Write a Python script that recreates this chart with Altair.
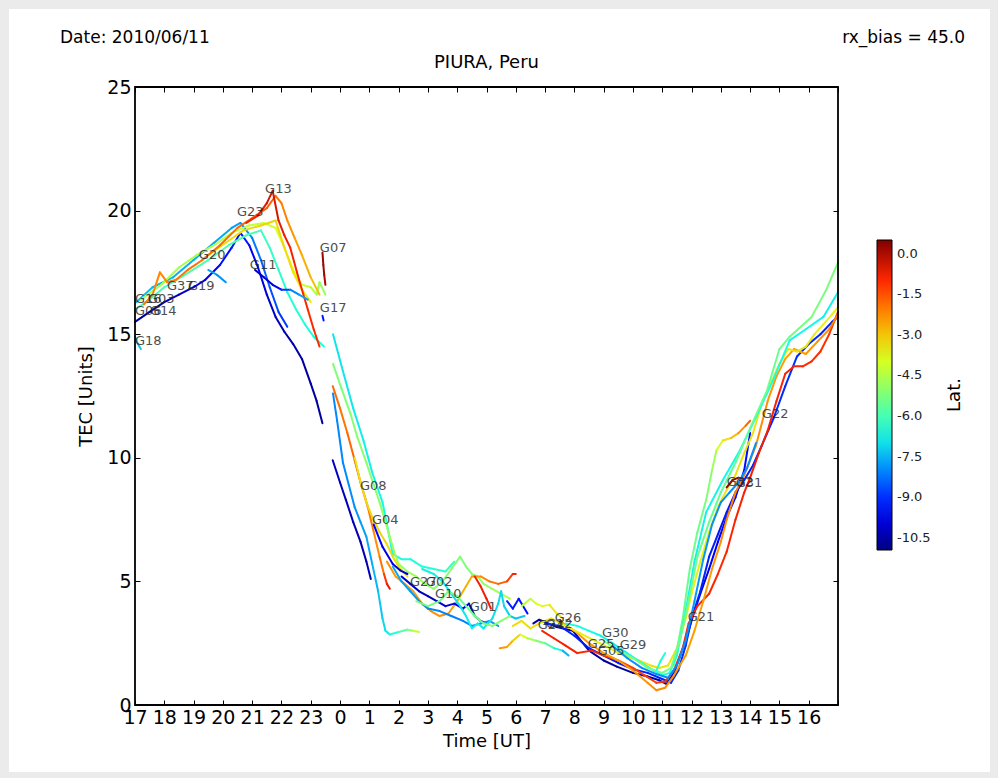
import altair as alt
import pandas as pd

# ---------------- data: satellite tracks (time in UT hours, 17 -> 41 = next day 17) ----------------
E1_T = [17.05, 17.6, 18.3, 19.0, 19.7, 20.3, 20.6, 21.0, 21.3, 21.6, 21.9, 22.2]
E1_TEC = [16.3, 16.9, 17.3, 18.0, 18.7, 19.3, 19.5, 18.9, 18.0, 16.9, 15.9, 15.3]
E1_LAT = [-7.4, -7.4, -7.5, -7.6, -7.6, -7.7, -7.8, -8.0, -8.3, -8.5, -8.8, -9.0]

E2_T = [17.0, 17.5, 18.0, 18.5, 19.0, 19.4, 19.9, 20.3, 20.6, 20.9, 21.2, 21.5, 21.8, 22.1, 22.4, 22.7, 23.0, 23.2, 23.4]
E2_TEC = [15.5, 15.9, 16.3, 16.6, 16.9, 17.2, 17.8, 18.5, 19.1, 18.6, 17.7, 16.6, 15.7, 15.1, 14.6, 14.0, 13.0, 12.3, 11.4]
E2_LAT = [-10.7, -10.6, -10.5, -10.3, -10.0, -9.8, -9.5, -9.3, -9.2, -9.4, -9.7, -10.0, -10.2, -10.4, -10.5, -10.6, -10.6, -10.6, -10.6]

E3_T = [17.0, 17.5, 18.0, 18.7, 19.5, 20.2, 20.8, 21.3, 21.6, 21.9, 22.2, 22.5, 22.8, 23.1, 23.45]
E3_TEC = [16.0, 16.4, 16.9, 17.4, 18.0, 18.6, 19.0, 19.2, 18.5, 17.6, 16.7, 16.0, 15.4, 14.9, 14.5]
E3_LAT = [-6.2, -6.1, -6.0, -5.9, -5.8, -5.8, -5.9, -6.0, -6.2, -6.3, -6.4, -6.5, -6.5, -6.6, -6.6]

E4_T = [17.2, 17.9, 18.5, 19.1, 19.7, 20.3, 20.9, 21.4, 21.8, 22.1, 22.4, 22.7, 23.0, 23.2, 23.3, 23.5]
E4_TEC = [16.4, 17.0, 17.7, 18.2, 18.6, 19.1, 19.4, 19.5, 19.3, 18.5, 17.6, 17.0, 16.9, 16.6, 17.1, 16.6]
E4_LAT = [-4.8, -4.7, -4.6, -4.6, -4.5, -4.4, -4.3, -4.2, -4.0, -3.8, -3.7, -4.0, -4.3, -4.6, -4.8, -4.9]

E5_T = [19.5, 20.1, 20.7, 21.3, 21.8, 22.1, 22.4, 22.7, 23.0]
E5_TEC = [18.2, 18.7, 19.2, 19.4, 19.6, 18.5, 17.5, 16.8, 16.3]
E5_LAT = [-3.4, -3.3, -3.3, -3.2, -3.2, -3.3, -3.4, -3.5, -3.6]

E6_T = [17.3, 17.6, 17.85, 18.1, 18.4, 18.8, 19.3, 19.9, 20.5, 21.0, 21.5, 21.8, 22.0, 22.2, 22.45, 22.7, 23.0, 23.3]
E6_TEC = [16.2, 16.6, 17.5, 17.1, 17.2, 17.6, 18.0, 18.6, 19.3, 19.7, 20.1, 20.6, 20.3, 19.6, 18.9, 18.2, 17.3, 16.6]
E6_LAT = [-2.0, -2.1, -2.2, -2.1, -2.0, -1.9, -1.9, -1.8, -1.8, -1.7, -1.6, -1.8, -2.0, -2.2, -2.4, -2.6, -2.8, -3.0]

E7_T = [20.8, 21.2, 21.5, 21.7, 21.9, 22.1, 22.3, 22.6, 22.9, 23.1, 23.3]
E7_TEC = [19.5, 19.8, 20.3, 20.8, 19.6, 19.0, 18.5, 17.2, 16.0, 15.2, 14.5]
E7_LAT = [-0.9, -0.7, -0.5, -0.3, -0.6, -0.7, -0.8, -0.9, -1.0, -1.0, -1.1]

E8_T = [21.1, 21.4, 21.7, 22.0, 22.3, 22.6, 22.9]
E8_TEC = [17.6, 17.3, 17.0, 16.8, 16.8, 16.6, 16.4]
E8_LAT = [-10.3, -10.1, -9.9, -9.5, -8.3, -7.8, -7.6]

E9_T = [19.5, 19.8, 20.1]
E9_TEC = [17.6, 17.4, 17.1]
E9_LAT = [-7.6, -7.8, -8.0]

E10_T = [17.0, 17.1, 17.2]
E10_TEC = [14.9, 14.6, 14.4]
E10_LAT = [-7.0, -7.2, -7.4]

E11_T = [23.4, 23.43, 23.46, 23.5]
E11_TEC = [18.3, 17.8, 17.4, 17.0]
E11_LAT = [0.2, 0.2, 0.1, 0.0]

E12_T = [23.4, 23.44]
E12_TEC = [15.75, 15.55]
E12_LAT = [-9.2, -9.3]

D1_T = [23.76, 24.1, 24.45, 24.8, 25.1, 25.45, 25.65, 25.8, 26.1, 26.4, 26.8, 27.2, 27.6, 27.9]
D1_TEC = [15.0, 13.5, 12.0, 10.7, 9.4, 8.2, 7.0, 6.1, 5.9, 5.9, 5.6, 5.5, 5.4, 5.8]
D1_LAT = [-7.0, -6.9, -6.9, -6.8, -6.8, -6.7, -6.7, -6.6, -6.6, -6.6, -6.5, -6.5, -6.3, -6.0]

D2_T = [23.76, 24.05, 24.35, 24.6, 24.9, 25.15, 25.35, 25.55, 25.7, 25.85, 26.0, 26.3, 26.6, 26.9, 27.2, 27.5, 27.8, 28.1, 28.3, 28.5, 28.7, 28.9, 29.2, 29.5, 29.8]
D2_TEC = [13.8, 12.8, 11.8, 10.8, 9.8, 8.9, 8.2, 7.4, 6.8, 6.2, 5.7, 5.4, 5.2, 4.9, 4.7, 5.0, 5.5, 6.0, 5.6, 5.3, 5.2, 4.9, 4.7, 4.5, 4.3]
D2_LAT = [-5.2, -5.2, -5.1, -5.1, -5.0, -5.0, -5.0, -4.9, -4.9, -4.8, -4.8, -4.8, -4.8, -4.9, -5.0, -5.0, -5.1, -5.2, -5.2, -5.1, -5.0, -4.9, -4.8, -4.6, -4.5]

D3_T = [23.75, 24.0, 24.25, 24.5, 24.7, 24.95, 25.15, 25.35, 25.5, 25.6, 25.7]
D3_TEC = [12.9, 12.0, 11.0, 9.9, 9.0, 8.0, 7.0, 6.0, 5.3, 4.9, 4.7]
D3_LAT = [-1.8, -1.9, -2.0, -1.5, -0.8, -1.8, -2.2, -2.3, -1.5, -0.8, -0.6]

D4_T = [23.76, 23.9, 24.1, 24.3, 24.5, 24.7, 24.9, 25.1, 25.3, 25.45, 25.55, 25.7, 26.0, 26.3, 26.5, 26.7]
D4_TEC = [12.6, 11.5, 9.8, 8.9, 8.0, 7.4, 6.8, 5.7, 4.6, 3.5, 3.0, 2.85, 2.95, 3.05, 3.0, 2.95]
D4_LAT = [-8.0, -8.0, -8.0, -8.0, -7.9, -7.8, -7.7, -7.6, -7.4, -7.2, -7.0, -6.8, -6.2, -5.5, -4.5, -3.8]

D5_T = [23.75, 24.0, 24.2, 24.45, 24.7, 24.9, 25.05]
D5_TEC = [9.9, 9.0, 8.3, 7.4, 6.6, 5.8, 5.1]
D5_LAT = [-10.2, -10.2, -10.3, -10.3, -10.4, -10.4, -10.4]

Y1_T = [24.5, 24.7, 24.9, 25.1, 25.35, 25.6, 25.8, 26.0, 26.3]
Y1_TEC = [10.0, 9.0, 8.2, 7.6, 7.0, 6.5, 6.0, 5.6, 5.2]
Y1_LAT = [-3.4, -3.4, -3.3, -3.3, -3.2, -3.2, -3.3, -3.3, -3.4]

B0_T = [25.15, 25.45, 25.8, 26.05, 26.3]
B0_TEC = [7.3, 6.4, 5.7, 5.45, 5.3]
B0_LAT = [-9.5, -9.6, -9.8, -9.9, -10.0]

B1_T = [25.6, 25.9, 26.2, 26.5, 26.8, 27.1, 27.4, 27.7, 28.0, 28.3, 28.5, 28.8, 29.1, 29.4, 29.7, 29.9, 30.0]
B1_TEC = [5.8, 5.2, 4.9, 4.6, 4.1, 3.8, 3.6, 3.7, 4.2, 4.8, 5.2, 5.2, 5.0, 4.9, 5.0, 5.3, 5.3]
B1_LAT = [-2.3, -2.4, -2.5, -2.5, -2.4, -2.3, -2.2, -2.3, -2.6, -2.8, -2.6, -2.3, -2.0, -1.8, -1.5, -1.0, -0.8]

B2_T = [28.6, 28.8, 29.0, 29.15]
B2_TEC = [5.2, 4.8, 4.3, 3.9]
B2_LAT = [-0.9, -0.8, -0.8, -0.7]

B3_T = [26.1, 26.4, 26.7, 27.0, 27.3, 27.6, 27.9, 28.2, 28.4, 28.6, 28.8, 29.0]
B3_TEC = [5.2, 4.9, 4.6, 4.4, 4.2, 4.0, 4.1, 3.9, 4.1, 3.6, 3.4, 3.3]
B3_LAT = [-10.0, -10.1, -10.2, -10.3, -10.2, -10.0, -9.8, -9.7, -9.9, -10.1, -10.0, -9.8]

B4_T = [25.8, 26.1, 26.4, 26.7, 27.0, 27.4, 27.8, 28.2, 28.5, 28.8, 29.1, 29.4]
B4_TEC = [5.6, 5.0, 4.6, 4.2, 3.9, 3.8, 3.6, 3.4, 3.2, 3.3, 3.4, 3.2]
B4_LAT = [-7.6, -7.7, -7.8, -7.9, -8.0, -8.0, -8.1, -8.1, -8.0, -7.9, -7.8, -7.7]

B5_T = [26.8, 27.2, 27.5, 27.8, 28.1, 28.3, 28.5, 28.7, 28.9, 29.2, 29.4, 29.5, 29.6, 29.8, 30.0, 30.3]
B5_TEC = [5.5, 5.3, 5.0, 4.5, 4.0, 3.6, 3.1, 3.3, 3.1, 3.5, 4.1, 4.6, 4.0, 3.6, 3.5, 3.6]
B5_LAT = [-6.8, -6.8, -6.9, -7.0, -7.0, -6.9, -6.8, -6.8, -6.9, -7.0, -7.0, -7.1, -7.1, -7.2, -7.3, -7.3]

B6_T = [26.6, 27.0, 27.4, 27.7, 28.0, 28.3, 28.6, 28.9, 29.2, 29.5, 29.8]
B6_TEC = [4.2, 4.0, 4.2, 4.6, 4.4, 4.0, 3.6, 3.3, 3.2, 3.4, 3.6]
B6_LAT = [-5.3, -5.3, -5.4, -5.4, -5.5, -5.5, -5.4, -5.3, -5.2, -5.1, -5.0]

B7_T = [29.7, 29.9, 30.1, 30.4]
B7_TEC = [4.2, 3.9, 4.3, 3.7]
B7_LAT = [-9.0, -9.2, -9.3, -9.4]

B8_T = [29.45, 29.7, 29.9, 30.15, 30.4, 30.7, 31.0, 31.3, 31.6, 31.8]
B8_TEC = [2.3, 2.35, 2.6, 2.85, 2.7, 2.6, 2.5, 2.3, 2.2, 2.0]
B8_LAT = [-2.2, -2.5, -2.8, -3.5, -4.3, -5.0, -5.5, -6.3, -7.2, -7.8]

B9_T = [30.2, 30.5, 30.7, 30.9, 31.15, 31.4, 31.6]
B9_TEC = [4.0, 4.3, 4.1, 4.0, 4.05, 3.7, 3.5]
B9_LAT = [-4.5, -4.3, -4.0, -3.8, -3.6, -3.4, -3.3]

R1_T = [30.6, 30.8, 31.4, 31.95, 32.5, 33.0, 33.45, 34.0, 34.5, 34.9, 35.15, 35.4, 35.6, 35.85, 36.05, 36.3, 36.6, 36.9, 37.2, 37.5, 37.8, 38.0]
R1_TEC = [3.3, 3.45, 3.15, 3.0, 2.2, 1.8, 1.55, 1.3, 1.15, 1.0, 0.85, 1.3, 1.95, 2.8, 3.6, 4.5, 5.5, 6.6, 7.6, 8.4, 9.5, 11.0]
R1_LAT = [-10.4, -10.5, -10.5, -10.4, -10.5, -10.6, -10.6, -10.6, -10.5, -10.5, -10.4, -10.3, -10.2, -10.1, -10.0, -9.9, -9.8, -9.7, -9.6, -9.5, -9.4, -9.4]

R2_T = [31.0, 31.5, 32.0, 32.5, 33.0, 33.5, 34.0, 34.5, 35.0, 35.3, 35.55, 35.8, 36.0, 36.3, 36.6, 36.9, 37.2, 37.5, 37.8, 38.1, 38.4, 38.8, 39.2, 39.6, 40.0, 40.4, 40.8, 41.0]
R2_TEC = [3.3, 3.2, 2.8, 2.3, 2.0, 1.7, 1.45, 1.3, 1.05, 0.9, 1.4, 2.4, 3.5, 4.6, 6.0, 6.9, 7.8, 8.6, 9.1, 9.7, 10.5, 11.6, 12.9, 14.1, 14.6, 15.0, 15.5, 15.7]
R2_LAT = [-9.0, -9.1, -9.2, -9.2, -9.3, -9.3, -9.2, -9.2, -9.1, -9.1, -9.0, -9.0, -9.1, -9.1, -9.2, -9.2, -9.3, -9.3, -9.2, -9.2, -9.1, -9.1, -9.0, -9.0, -9.1, -9.1, -9.2, -9.2]

R3_T = [30.9, 31.3, 31.7, 32.1, 32.6, 33.0, 33.5, 34.0, 34.4, 34.8, 35.1, 35.4, 35.7, 35.9, 36.2, 36.6, 36.9, 37.2, 37.5, 37.8, 38.0, 38.3, 38.6, 38.9, 39.2, 39.5, 39.8, 40.1, 40.4, 40.7, 41.0]
R3_TEC = [3.0, 2.7, 2.4, 2.1, 2.2, 2.0, 1.8, 1.5, 1.2, 0.9, 0.95, 1.4, 2.3, 3.3, 4.0, 4.5, 5.3, 6.2, 7.5, 8.6, 9.2, 10.2, 11.1, 12.3, 13.4, 13.7, 13.7, 13.9, 14.3, 15.0, 15.9]
R3_LAT = [-0.9, -0.8, -0.8, -0.9, -1.0, -1.1, -1.2, -1.3, -1.3, -1.2, -1.1, -1.0, -0.9, -0.8, -0.9, -1.0, -1.0, -1.0, -0.9, -0.9, -0.8, -0.8, -0.8, -0.9, -0.9, -0.9, -1.0, -1.0, -1.1, -1.1, -1.2]

R4_T = [31.5, 32.0, 32.5, 33.0, 33.5, 34.0, 34.5, 34.8, 35.1, 35.4, 35.8, 36.1, 36.4, 36.7, 37.0, 37.2, 37.5, 37.8, 38.2, 38.6, 38.9, 39.2, 39.5, 39.9, 40.3, 40.7, 41.0]
R4_TEC = [3.4, 3.0, 2.5, 2.1, 1.8, 1.4, 0.9, 0.6, 0.7, 1.2, 2.0, 3.0, 4.2, 5.5, 6.6, 7.5, 8.6, 9.3, 10.5, 12.3, 13.3, 14.0, 14.4, 14.2, 14.7, 15.2, 15.8]
R4_LAT = [-2.2, -2.3, -2.4, -2.5, -2.5, -2.4, -2.3, -2.2, -2.2, -2.3, -2.4, -2.5, -2.5, -2.4, -2.3, -2.2, -2.1, -2.1, -2.2, -2.3, -2.4, -2.5, -2.5, -2.4, -2.3, -2.2, -2.1]

R5_T = [29.9, 30.2, 30.5, 30.8, 31.2, 31.7, 32.2, 32.7, 33.2, 33.7, 34.2, 34.6, 34.9, 35.2, 35.5, 35.8, 36.0, 36.3, 36.6, 36.9, 37.2, 37.5, 37.8, 38.1, 38.4, 38.7, 39.0, 39.3, 39.6, 39.9, 40.2, 40.5, 40.8, 41.0]
R5_TEC = [3.2, 3.4, 3.1, 3.3, 3.5, 3.2, 2.9, 2.6, 2.3, 2.0, 1.8, 1.6, 1.5, 1.6, 2.3, 3.5, 4.5, 5.8, 7.0, 8.0, 8.7, 9.3, 10.2, 11.0, 12.2, 13.0, 13.8, 14.4, 14.3, 14.5, 15.0, 15.4, 15.8, 16.1]
R5_LAT = [-3.3, -3.3, -3.4, -3.4, -3.5, -3.5, -3.5, -3.6, -3.6, -3.5, -3.5, -3.4, -3.4, -3.4, -3.5, -3.5, -3.6, -3.6, -3.6, -3.5, -3.5, -3.4, -3.4, -3.4, -3.5, -3.5, -3.5, -3.4, -3.4, -3.5, -3.5, -3.6, -3.6, -3.6]

R6_T = [35.4, 35.7, 35.94, 36.2, 36.5, 36.7, 36.85, 37.07, 37.35, 37.6, 37.85, 38.0]
R6_TEC = [1.6, 3.5, 5.5, 7.0, 8.3, 9.5, 10.3, 10.7, 10.8, 11.0, 11.3, 11.5]
R6_LAT = [-5.5, -5.5, -5.5, -5.4, -5.3, -5.0, -4.5, -3.6, -3.2, -2.5, -2.0, -1.5]

R7_T = [31.7, 32.1, 32.5, 32.9, 33.3, 33.8, 34.3, 34.7, 35.0, 35.25, 35.5, 35.8, 36.1, 36.5, 37.07, 37.65, 38.2, 38.77, 39.35, 39.9, 40.5, 41.0]
R7_TEC = [3.3, 3.2, 3.0, 2.8, 2.5, 2.1, 1.7, 1.4, 1.2, 1.3, 2.0, 3.8, 5.8, 7.8, 9.1, 10.3, 11.65, 13.1, 14.75, 15.2, 15.7, 16.7]
R7_LAT = [-6.6, -6.6, -6.7, -6.7, -6.8, -6.8, -6.7, -6.7, -6.6, -6.6, -6.7, -6.7, -6.8, -6.8, -6.7, -6.7, -6.6, -6.6, -6.7, -6.7, -6.8, -6.8]

R8_T = [33.0, 33.5, 34.0, 34.5, 35.0, 35.3, 35.6, 35.9, 36.2, 36.6, 37.0, 37.5, 38.0, 38.57, 39.0, 39.35, 40.1, 40.6, 41.0]
R8_TEC = [2.6, 2.2, 1.9, 1.5, 1.3, 1.5, 2.6, 4.2, 6.0, 7.4, 8.6, 9.8, 11.2, 12.7, 14.4, 14.9, 15.7, 16.8, 17.9]
R8_LAT = [-5.2, -5.2, -5.3, -5.3, -5.4, -5.4, -5.4, -5.5, -5.5, -5.5, -5.6, -5.6, -5.5, -5.5, -5.4, -5.4, -5.3, -5.3, -5.2]

R9_T = [33.3, 33.8, 34.3, 34.8, 35.2, 35.5, 35.8, 36.1, 36.4, 36.7, 37.0, 37.3, 37.6, 37.9, 38.2]
R9_TEC = [2.4, 1.9, 1.5, 1.25, 1.1, 1.6, 2.6, 4.2, 5.9, 7.3, 8.2, 8.6, 9.0, 9.6, 10.6]
R9_LAT = [-7.8, -7.9, -7.9, -8.0, -8.0, -7.9, -7.9, -7.8, -7.8, -7.9, -7.9, -8.0, -8.0, -7.9, -7.9]

S1_T = [34.8, 34.95, 35.1]
S1_TEC = [1.4, 1.8, 2.1]
S1_LAT = [-6.5, -6.5, -6.5]

S2_T = [37.2, 37.4, 37.6]
S2_TEC = [8.8, 9.1, 9.2]
S2_LAT = [0.3, 0.3, 0.3]

# ---------------- PRN labels ----------------
LABEL_NAMES = ["G13", "G23", "G20", "G11", "G07", "G17", "G16", "G03", "G06", "G14",
               "G37", "G19", "G18", "G08", "G04", "G27", "G02", "G10", "G01", "G24",
               "G12", "G26", "G30", "G25", "G05", "G29", "G21", "G22", "G32", "G31"]
LABEL_T = [21.44, 20.48, 19.18, 20.92, 23.31, 23.31, 17.0, 17.44, 17.0, 17.51,
           18.09, 18.81, 17.0, 24.68, 25.09, 26.39, 26.93, 27.24, 28.43, 30.75,
           31.03, 31.33, 32.94, 32.46, 32.80, 33.55, 35.87, 38.4, 37.2, 37.51]
LABEL_TEC = [20.87, 19.94, 18.2, 17.8, 18.49, 16.06, 16.42, 16.42, 15.94, 15.94,
             16.95, 16.95, 14.72, 8.86, 7.48, 4.98, 4.98, 4.49, 3.96, 3.24,
             3.28, 3.52, 2.91, 2.47, 2.18, 2.43, 3.56, 11.77, 9.02, 8.98]

# ---------------- axes / colour bar ----------------
HOUR_TICKS = list(range(17, 42))
HOUR_LABELS = list(range(17, 41))
TEC_TICKS = [0, 5, 10, 15, 20, 25]
LAT_TICKS = [-10.5, -9.0, -7.5, -6.0, -4.5, -3.0, -1.5, 0.0]
LAT_STOPS = [-10.95, -9.519, -8.087, -6.656, -5.225, -3.794, -2.362, -0.931, 0.5]
JET = ["#000080", "#0000ff", "#0080ff", "#15ffe4", "#7dff7a", "#e4ff13", "#ff9700", "#ff2200", "#800000"]

TRACKS = [
    ("E1", E1_T, E1_TEC, E1_LAT), ("E2", E2_T, E2_TEC, E2_LAT), ("E3", E3_T, E3_TEC, E3_LAT),
    ("E4", E4_T, E4_TEC, E4_LAT), ("E5", E5_T, E5_TEC, E5_LAT), ("E6", E6_T, E6_TEC, E6_LAT),
    ("E7", E7_T, E7_TEC, E7_LAT), ("E8", E8_T, E8_TEC, E8_LAT), ("E9", E9_T, E9_TEC, E9_LAT),
    ("E10", E10_T, E10_TEC, E10_LAT), ("E11", E11_T, E11_TEC, E11_LAT), ("E12", E12_T, E12_TEC, E12_LAT),
    ("D1", D1_T, D1_TEC, D1_LAT), ("D2", D2_T, D2_TEC, D2_LAT), ("D3", D3_T, D3_TEC, D3_LAT),
    ("D4", D4_T, D4_TEC, D4_LAT), ("D5", D5_T, D5_TEC, D5_LAT), ("Y1", Y1_T, Y1_TEC, Y1_LAT),
    ("B0", B0_T, B0_TEC, B0_LAT), ("B1", B1_T, B1_TEC, B1_LAT), ("B2", B2_T, B2_TEC, B2_LAT),
    ("B3", B3_T, B3_TEC, B3_LAT), ("B4", B4_T, B4_TEC, B4_LAT), ("B5", B5_T, B5_TEC, B5_LAT),
    ("B6", B6_T, B6_TEC, B6_LAT), ("B7", B7_T, B7_TEC, B7_LAT), ("B8", B8_T, B8_TEC, B8_LAT),
    ("B9", B9_T, B9_TEC, B9_LAT), ("R1", R1_T, R1_TEC, R1_LAT), ("R2", R2_T, R2_TEC, R2_LAT),
    ("R3", R3_T, R3_TEC, R3_LAT), ("R4", R4_T, R4_TEC, R4_LAT), ("R5", R5_T, R5_TEC, R5_LAT),
    ("R6", R6_T, R6_TEC, R6_LAT), ("R7", R7_T, R7_TEC, R7_LAT), ("R8", R8_T, R8_TEC, R8_LAT),
    ("R9", R9_T, R9_TEC, R9_LAT), ("S1", S1_T, S1_TEC, S1_LAT), ("S2", S2_T, S2_TEC, S2_LAT),
]

rows = []
for name, ts, tecs, lats in TRACKS:
    for i in range(len(ts) - 1):
        rows.append({"track": name, "t": ts[i], "tec": tecs[i], "t2": ts[i + 1],
                     "tec2": tecs[i + 1], "lat": (lats[i] + lats[i + 1]) / 2})
seg = pd.DataFrame(rows)
lab = pd.DataFrame({"name": LABEL_NAMES, "t": LABEL_T, "tec": LABEL_TEC})
one = pd.DataFrame({"a": [0]})

W, H = 703, 618
SANS = "DejaVu Sans"

xs = alt.Scale(domain=[17, 41], nice=False, zero=False)
ys = alt.Scale(domain=[0, 25], nice=False, zero=False)
cs = alt.Scale(domain=LAT_STOPS, range=JET, type="linear", interpolate="rgb")

bg = alt.Chart(one).mark_rect(color="white").encode(
    x=alt.value(-126), x2=alt.value(855), y=alt.value(-78), y2=alt.value(685))

segs = alt.Chart(seg).mark_rule(strokeWidth=2.0, strokeCap="round").encode(
    x=alt.X("t:Q", scale=xs, axis=alt.Axis(
        orient="bottom", values=HOUR_LABELS, labelExpr="toString(datum.value % 24)",
        tickSize=0, domain=False, grid=False, labelFont=SANS, labelFontSize=19,
        labelColor="black", labelPadding=3, labelOverlap=False, labelFlush=False,
        title="Time [UT]", titleFont=SANS, titleFontSize=18, titleFontWeight="normal",
        titleColor="black", titlePadding=5, zindex=2)),
    y=alt.Y("tec:Q", scale=ys, axis=alt.Axis(
        orient="left", values=TEC_TICKS, tickSize=0, domain=False, grid=False,
        labelFont=SANS, labelFontSize=19, labelColor="black", labelPadding=4,
        labelOverlap=False, labelFlush=False,
        title="TEC [Units]", titleFont=SANS, titleFontSize=18, titleFontWeight="normal",
        titleColor="black", titlePadding=11, zindex=2)),
    x2="t2:Q", y2="tec2:Q",
    color=alt.Color("lat:Q", scale=cs, legend=alt.Legend(
        orient="none", legendX=742, legendY=153, direction="vertical",
        gradientLength=310, gradientThickness=15, gradientStrokeColor="black",
        gradientStrokeWidth=1, values=LAT_TICKS,
        labelExpr="replace(format(datum.value, '.1f'), '\u2212', '-')",
        labelFont=SANS, labelFontSize=13, labelColor="#222", labelOffset=5,
        title=None)),
)

labels = alt.Chart(lab).mark_text(align="left", baseline="middle", font=SANS, fontSize=13,
                                   color="#222", opacity=0.8).encode(
    x=alt.X("t:Q", scale=xs, axis=alt.Axis(
        orient="top", offset=-H, values=HOUR_TICKS, labels=False, domain=False, ticks=True,
        tickSize=5, tickColor="black", tickWidth=1, grid=False, title=None, zindex=2)),
    y=alt.Y("tec:Q", scale=ys, axis=alt.Axis(
        orient="right", offset=-W, values=TEC_TICKS, labels=False, domain=False, ticks=True,
        tickSize=5, tickColor="black", tickWidth=1, grid=False, title=None, zindex=2)),
    text="name:N",
)

ticks3 = alt.Chart(lab).mark_point(opacity=0).encode(
    x=alt.X("t:Q", scale=xs, axis=alt.Axis(
        orient="bottom", offset=-H, values=HOUR_TICKS, labels=False, domain=False, ticks=True,
        tickSize=5, tickColor="black", tickWidth=1, grid=False, title=None, zindex=2)),
    y=alt.Y("tec:Q", scale=ys, axis=alt.Axis(
        orient="left", offset=-W, values=TEC_TICKS, labels=False, domain=False, ticks=True,
        tickSize=5, tickColor="black", tickWidth=1, grid=False, title=None, zindex=2)),
)

frame = alt.Chart(one).mark_rect(fill=None, stroke="black", strokeWidth=1.8).encode(
    x=alt.value(0), x2=alt.value(W), y=alt.value(0), y2=alt.value(H))

date_txt = alt.Chart(pd.DataFrame({"s": ["Date: 2010/06/11"]})).mark_text(
    align="left", baseline="middle", font=SANS, fontSize=17, color="black").encode(
    x=alt.value(-75), y=alt.value(-49), text="s:N")
bias_txt = alt.Chart(pd.DataFrame({"s": ["rx_bias = 45.0"]})).mark_text(
    align="right", baseline="middle", font=SANS, fontSize=17, color="black").encode(
    x=alt.value(830), y=alt.value(-49), text="s:N")
title_txt = alt.Chart(pd.DataFrame({"s": ["PIURA, Peru"]})).mark_text(
    align="center", baseline="middle", font=SANS, fontSize=18, color="black").encode(
    x=alt.value(W / 2), y=alt.value(-24), text="s:N")
lat_txt = alt.Chart(pd.DataFrame({"s": ["Lat."]})).mark_text(
    align="center", baseline="middle", font=SANS, fontSize=18, color="black", angle=270).encode(
    x=alt.value(820), y=alt.value(308), text="s:N")

chart = alt.layer(bg, segs, labels, ticks3, frame, date_txt, bias_txt, title_txt, lat_txt).resolve_axis(
    x="independent", y="independent"
).properties(
    width=W, height=H,
    autosize=alt.AutoSizeParams(type="none"),
    padding={"left": 135, "top": 87, "right": 160, "bottom": 73},
    background="#ebebeb",
).configure_view(stroke=None)

chart.save("out.html", embed_options={"renderer": "svg", "actions": False})
